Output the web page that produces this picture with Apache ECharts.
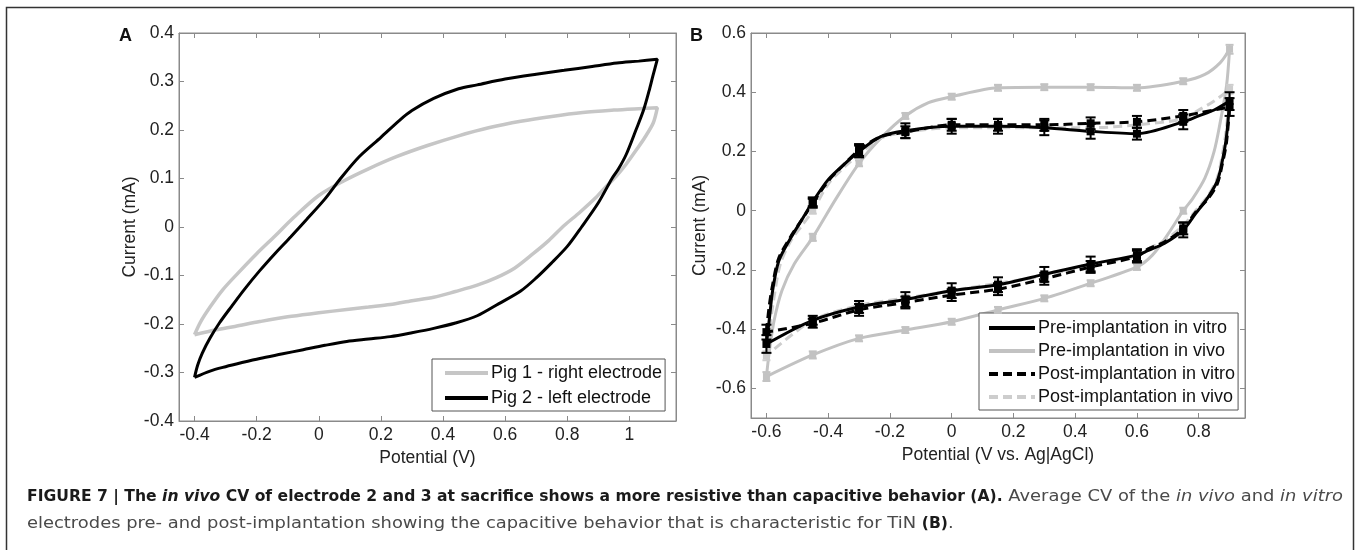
<!DOCTYPE html>
<html>
<head>
<meta charset="utf-8">
<script src="https://cdn.jsdelivr.net/npm/echarts@6/dist/echarts.min.js"></script>
<style>
html, body { margin: 0; padding: 0; background: #fff; }
#main { width: 1360px; height: 550px; }
</style>
</head>
<body>
<div id="main"></div>
<script>
// ---- Panel A: CV at sacrifice, [potential V, current mA] traced along the loop
var pig1 = [
    [-0.40, -0.222], [-0.38, -0.195], [-0.35, -0.165], [-0.31, -0.13], [-0.26, -0.095], [-0.20, -0.055],
    [-0.14, -0.018], [-0.08, 0.02], [0.0, 0.065], [0.08, 0.095], [0.16, 0.12], [0.25, 0.145],
    [0.35, 0.168], [0.45, 0.188], [0.55, 0.205], [0.65, 0.218], [0.75, 0.228], [0.85, 0.236],
    [0.95, 0.241], [1.03, 0.244], [1.09, 0.246],
    [1.077, 0.215], [1.05, 0.185], [1.028, 0.164], [0.99, 0.13], [0.958, 0.105], [0.92, 0.08],
    [0.888, 0.058], [0.84, 0.03], [0.79, 0.003], [0.74, -0.028], [0.69, -0.055], [0.63, -0.085],
    [0.57, -0.105], [0.51, -0.12], [0.44, -0.133], [0.37, -0.145], [0.30, -0.152], [0.23, -0.16],
    [0.16, -0.165], [0.09, -0.17], [0.0, -0.177], [-0.10, -0.185], [-0.19, -0.195], [-0.27, -0.205],
    [-0.33, -0.212], [-0.40, -0.222]
];
var pig2 = [
    [-0.40, -0.31], [-0.39, -0.285], [-0.375, -0.26], [-0.35, -0.229], [-0.32, -0.198], [-0.28, -0.163],
    [-0.24, -0.129], [-0.19, -0.09], [-0.14, -0.054], [-0.09, -0.02], [-0.04, 0.015], [0.02, 0.058],
    [0.07, 0.10], [0.13, 0.145], [0.20, 0.185], [0.26, 0.22], [0.30, 0.24], [0.37, 0.265],
    [0.45, 0.285], [0.51, 0.293], [0.60, 0.305], [0.70, 0.315], [0.79, 0.323], [0.88, 0.331],
    [0.96, 0.338], [1.03, 0.342], [1.09, 0.346],
    [1.075, 0.31], [1.063, 0.28], [1.045, 0.24], [1.021, 0.20], [0.99, 0.15], [0.965, 0.12],
    [0.944, 0.10], [0.90, 0.05], [0.846, 0.0], [0.80, -0.04], [0.748, -0.075], [0.70, -0.105],
    [0.65, -0.132], [0.58, -0.158], [0.51, -0.183], [0.44, -0.198], [0.37, -0.209], [0.30, -0.218],
    [0.23, -0.226], [0.16, -0.231], [0.09, -0.236], [0.02, -0.244], [-0.05, -0.253], [-0.12, -0.262],
    [-0.19, -0.271], [-0.25, -0.28], [-0.30, -0.288], [-0.35, -0.297], [-0.40, -0.31]
];
var ticksAx = [-0.4, -0.2, 0, 0.2, 0.4, 0.6, 0.8, 1];

// ---- Panel B: average CV, markers every 0.15 V (upper = anodic, lower = cathodic branch)
var potB = [-0.6, -0.45, -0.3, -0.15, 0, 0.15, 0.3, 0.45, 0.6, 0.75, 0.9];

var preVitroUp   = [-0.45, 0.03, 0.20, 0.27, 0.285, 0.285, 0.28, 0.268, 0.26, 0.30, 0.37];
var preVitroDown = [-0.45, -0.37, -0.325, -0.30, -0.27, -0.25, -0.215, -0.18, -0.15, -0.065, 0.37];
var preVitroErr  = [0.03, 0.015, 0.02, 0.025, 0.025, 0.025, 0.025, 0.025, 0.02, 0.025, 0.03];
var preVitroUpBend   = [[-0.59, -0.36], [-0.58, -0.27], [-0.56, -0.17], [-0.52, -0.09], [-0.485, -0.03], [-0.40, 0.105], [-0.345, 0.16], [-0.23, 0.25], [0.80, 0.32], [0.85, 0.34]];
var preVitroDownBend = [[0.89, 0.25], [0.875, 0.16], [0.86, 0.10], [0.83, 0.045], [0.79, -0.01], [0.69, -0.11], [0.635, -0.135]];

var preVivoUp   = [-0.56, -0.09, 0.16, 0.32, 0.385, 0.415, 0.417, 0.417, 0.415, 0.437, 0.545];
var preVivoDown = [-0.56, -0.487, -0.431, -0.403, -0.375, -0.335, -0.296, -0.245, -0.19, 0.0, 0.545];
var preVivoErr  = [0.015, 0.012, 0.01, 0.01, 0.01, 0.01, 0.01, 0.01, 0.01, 0.01, 0.015];
var preVivoUpBend   = [[-0.59, -0.47], [-0.575, -0.37], [-0.55, -0.27], [-0.51, -0.18], [-0.375, 0.04], [-0.225, 0.25], [-0.075, 0.365], [0.82, 0.46], [0.87, 0.50]];
var preVivoDownBend = [[0.89, 0.42], [0.87, 0.30], [0.85, 0.20], [0.82, 0.11], [0.78, 0.04], [0.70, -0.08], [0.65, -0.15]];

var postVitroUp   = [-0.41, 0.025, 0.205, 0.265, 0.29, 0.29, 0.29, 0.295, 0.30, 0.32, 0.35];
var postVitroDown = [-0.41, -0.38, -0.335, -0.31, -0.285, -0.265, -0.23, -0.19, -0.155, -0.06, 0.35];
var postVitroErr  = [0.025, 0.015, 0.02, 0.02, 0.02, 0.02, 0.02, 0.02, 0.02, 0.02, 0.03];
var postVitroUpBend   = [[-0.592, -0.33], [-0.58, -0.25], [-0.56, -0.16], [-0.52, -0.085], [-0.485, -0.03], [-0.40, 0.10], [-0.345, 0.16], [-0.23, 0.25], [0.80, 0.33], [0.85, 0.34]];
var postVitroDownBend = [[0.89, 0.23], [0.875, 0.15], [0.86, 0.09], [0.83, 0.04], [0.79, -0.005], [0.69, -0.105], [0.635, -0.13]];

var postVivoUp   = [-0.49, 0.0, 0.19, 0.265, 0.28, 0.28, 0.28, 0.28, 0.29, 0.31, 0.41];
var postVivoDown = [-0.49, -0.37, -0.32, -0.295, -0.27, -0.245, -0.22, -0.18, -0.155, -0.05, 0.41];
var postVivoErr  = [0.015, 0.01, 0.01, 0.01, 0.01, 0.01, 0.01, 0.01, 0.01, 0.01, 0.015];
var postVivoUpBend   = [[-0.59, -0.40], [-0.575, -0.29], [-0.555, -0.18], [-0.52, -0.10], [-0.485, -0.05], [-0.40, 0.09], [-0.345, 0.15], [-0.23, 0.245], [0.80, 0.34], [0.85, 0.37]];
var postVivoDownBend = [[0.89, 0.28], [0.875, 0.18], [0.86, 0.11], [0.83, 0.05], [0.79, 0.0], [0.69, -0.10], [0.635, -0.13]];

var ticksBx = [-0.6, -0.4, -0.2, 0, 0.2, 0.4, 0.6, 0.8];
var ticksBy = [-0.6, -0.4, -0.2, 0, 0.2, 0.4, 0.6];

var FONT = '"Liberation Sans", Arial, sans-serif';
var CAP_B = '"DejaVu Sans Condensed", "Liberation Sans", sans-serif';
var CAP_R = '"DejaVu Sans", "Liberation Sans", sans-serif';
var FRAME = '#8a8a8a';
var FS = 17.5;

// join markers and bend points into one closed loop: upper branch left->right, lower right->left
function loop(up, down, upBend, downBend) {
    var a = potB.map(function (x, i) { return [x, up[i]]; }).concat(upBend);
    a.sort(function (p, q) { return p[0] - q[0]; });
    var b = potB.map(function (x, i) { return [x, down[i]]; }).slice(0, potB.length - 1).concat(downBend);
    b.sort(function (p, q) { return q[0] - p[0]; });
    return a.concat(b);
}
function bars(up, down, err) {
    var out = [];
    potB.forEach(function (x, i) {
        out.push([x, up[i], err[i]]);
        if (i > 0 && i < potB.length - 1) out.push([x, down[i], err[i]]);
    });
    return out;
}

var chartDom = document.getElementById('main');
var myChart = echarts.init(chartDom);

function valueAxis(opt) {
    var base = {
        type: 'value',
        scale: true,
        splitLine: { show: false },
        axisLine: { show: true, onZero: false, lineStyle: { color: FRAME, width: 1 } },
        axisTick: { show: true, inside: true, length: 5, lineStyle: { color: FRAME } },
        axisLabel: { show: true, color: '#222', fontSize: FS, fontFamily: FONT, margin: 5 },
        nameTextStyle: { color: '#222', fontSize: FS, fontFamily: FONT }
    };
    return Object.assign(base, opt);
}
function mirror(opt) {
    return valueAxis(Object.assign({ axisLabel: { show: false } }, opt));
}
function ticks(vals) {
    return { show: true, inside: true, length: 5, lineStyle: { color: FRAME }, customValues: vals };
}
function labels(vals) {
    return { show: true, color: '#222', fontSize: FS, fontFamily: FONT, margin: 5, customValues: vals };
}

function errorSeries(data, color, xi, yi, capW, size, lw) {
    return {
        type: 'custom',
        xAxisIndex: xi,
        yAxisIndex: yi,
        z: 5,
        silent: true,
        encode: { x: 0, y: 1 },
        data: data,
        renderItem: function (params, api) {
            var x = api.value(0), y = api.value(1), e = api.value(2);
            var p = api.coord([x, y]);
            var hi = api.coord([x, y + e]);
            var lo = api.coord([x, y - e]);
            var st = { stroke: color, lineWidth: lw };
            return {
                type: 'group',
                children: [
                    { type: 'line', shape: { x1: p[0], y1: hi[1], x2: p[0], y2: lo[1] }, style: st },
                    { type: 'line', shape: { x1: p[0] - capW, y1: hi[1], x2: p[0] + capW, y2: hi[1] }, style: st },
                    { type: 'line', shape: { x1: p[0] - capW, y1: lo[1], x2: p[0] + capW, y2: lo[1] }, style: st },
                    { type: 'rect', shape: { x: p[0] - size / 2, y: p[1] - size / 2, width: size, height: size }, style: { fill: color } }
                ]
            };
        }
    };
}

var legendBase = {
    orient: 'vertical',
    backgroundColor: '#fff',
    borderColor: '#555',
    borderWidth: 1,
    borderRadius: 0,
    itemHeight: 18,
    itemStyle: { opacity: 0 },
    lineStyle: { width: 4 },
    textStyle: { color: '#111', fontSize: 18, fontFamily: FONT, padding: [0, 0, 0, -2] }
};

var option = {
    backgroundColor: '#fff',
    animation: false,
    grid: [
        { left: 179, top: 33, width: 497, height: 388, show: true, borderColor: FRAME, borderWidth: 1, backgroundColor: '#fff' },
        { left: 751, top: 33, width: 494, height: 385, show: true, borderColor: FRAME, borderWidth: 1, backgroundColor: '#fff' }
    ],
    xAxis: [
        valueAxis({
            gridIndex: 0, min: -0.45, max: 1.15,
            axisTick: ticks(ticksAx), axisLabel: labels(ticksAx),
            name: 'Potential (V)', nameLocation: 'middle', nameGap: 27
        }),
        mirror({ gridIndex: 0, position: 'top', min: -0.45, max: 1.15, axisTick: ticks(ticksAx) }),
        valueAxis({
            gridIndex: 1, min: -0.65, max: 0.95,
            axisTick: ticks(ticksBx), axisLabel: labels(ticksBx),
            name: 'Potential (V vs. Ag|AgCl)', nameLocation: 'middle', nameGap: 27
        }),
        mirror({ gridIndex: 1, position: 'top', min: -0.65, max: 0.95, axisTick: ticks(ticksBx) })
    ],
    yAxis: [
        valueAxis({
            gridIndex: 0, min: -0.4, max: 0.4, interval: 0.1,
            name: 'Current (mA)', nameLocation: 'middle', nameGap: 40
        }),
        mirror({ gridIndex: 0, position: 'right', min: -0.4, max: 0.4, interval: 0.1 }),
        valueAxis({
            gridIndex: 1, min: -0.7, max: 0.6,
            axisTick: ticks(ticksBy), axisLabel: labels(ticksBy),
            name: 'Current (mA)', nameLocation: 'middle', nameGap: 42
        }),
        mirror({ gridIndex: 1, position: 'right', min: -0.7, max: 0.6, axisTick: ticks(ticksBy) })
    ],
    legend: [
        Object.assign({}, legendBase, {
            left: 432, top: 359, padding: [5, 3, 4, 11], itemGap: 7, itemWidth: 43,
            data: ['Pig 1 - right electrode', 'Pig 2 - left electrode']
        }),
        Object.assign({}, legendBase, {
            left: 979, top: 313, padding: [6, 3, 4, 8], itemGap: 5, itemWidth: 46,
            data: ['Pre-implantation in vitro', 'Pre-implantation in vivo', 'Post-implantation in vitro', 'Post-implantation in vivo']
        })
    ],
    series: [
        {
            name: 'Pig 1 - right electrode', type: 'line', xAxisIndex: 0, yAxisIndex: 0,
            data: pig1, symbol: 'none', smooth: 0.3, lineStyle: { color: '#c6c6c6', width: 3.5 }, itemStyle: { color: '#c6c6c6' }
        },
        {
            name: 'Pig 2 - left electrode', type: 'line', xAxisIndex: 0, yAxisIndex: 0,
            data: pig2, symbol: 'none', smooth: 0.3, lineStyle: { color: '#000', width: 3 }, itemStyle: { color: '#000' }
        },
        {
            name: 'Pre-implantation in vivo', type: 'line', xAxisIndex: 2, yAxisIndex: 2,
            data: loop(preVivoUp, preVivoDown, preVivoUpBend, preVivoDownBend),
            symbol: 'none', smooth: 0.3, lineStyle: { color: '#c2c2c2', width: 3 }, itemStyle: { color: '#c2c2c2' }
        },
        {
            name: 'Post-implantation in vivo', type: 'line', xAxisIndex: 2, yAxisIndex: 2,
            data: loop(postVivoUp, postVivoDown, postVivoUpBend, postVivoDownBend),
            symbol: 'none', smooth: 0.3, lineStyle: { color: '#cdcdcd', width: 3, type: [9, 5] }, itemStyle: { color: '#cdcdcd' }
        },
        {
            name: 'Post-implantation in vitro', type: 'line', xAxisIndex: 2, yAxisIndex: 2,
            data: loop(postVitroUp, postVitroDown, postVitroUpBend, postVitroDownBend),
            symbol: 'none', smooth: 0.3, lineStyle: { color: '#000', width: 3, type: [9, 5] }, itemStyle: { color: '#000' }
        },
        {
            name: 'Pre-implantation in vitro', type: 'line', xAxisIndex: 2, yAxisIndex: 2,
            data: loop(preVitroUp, preVitroDown, preVitroUpBend, preVitroDownBend),
            symbol: 'none', smooth: 0.3, lineStyle: { color: '#000', width: 3 }, itemStyle: { color: '#000' }
        },
        errorSeries(bars(preVivoUp, preVivoDown, preVivoErr), '#c2c2c2', 2, 2, 4, 7, 2),
        errorSeries(bars(postVivoUp, postVivoDown, postVivoErr), '#cdcdcd', 2, 2, 4, 7, 2),
        errorSeries(bars(postVitroUp, postVitroDown, postVitroErr), '#000', 2, 2, 5, 8, 2),
        errorSeries(bars(preVitroUp, preVitroDown, preVitroErr), '#000', 2, 2, 5, 8, 2)
    ],
    graphic: [
        { type: 'rect', silent: true, shape: { x: 6.5, y: 7.5, width: 1347, height: 600 }, style: { fill: 'none', stroke: '#333', lineWidth: 1.5 } },
        { type: 'text', x: 119, y: 27, style: { text: 'A', font: 'bold 18px ' + FONT, fill: '#111' } },
        { type: 'text', x: 690, y: 27, style: { text: 'B', font: 'bold 18px ' + FONT, fill: '#111' } },
        {
            type: 'text', x: 27, y: 489, scaleX: 1.155,
            style: {
                text: '{b|FIGURE 7 | The }{bi|in vivo}{b| CV of electrode 2 and 3 at sacrifice shows a more resistive than capacitive behavior (A).}{r| Average CV of the }{i|in vivo}{r| and }{i|in vitro}',
                font: '15px ' + CAP_R,
                rich: {
                    b: { fontWeight: 'bold', fontSize: 15, fontFamily: CAP_B, fill: '#1a1a1a' },
                    bi: { fontWeight: 'bold', fontStyle: 'italic', fontSize: 15, fontFamily: CAP_B, fill: '#1a1a1a' },
                    r: { fontSize: 15.5, fontFamily: CAP_R, fill: '#4a4a4a' },
                    i: { fontStyle: 'italic', fontSize: 15.5, fontFamily: CAP_R, fill: '#4a4a4a' }
                }
            }
        },
        {
            type: 'text', x: 27, y: 516, scaleX: 1.155,
            style: {
                text: '{r|electrodes pre- and post-implantation showing the capacitive behavior that is characteristic for TiN }{b|(B)}{r|.}',
                font: '15px ' + CAP_R,
                rich: {
                    b: { fontWeight: 'bold', fontSize: 15, fontFamily: CAP_B, fill: '#1a1a1a' },
                    r: { fontSize: 15.5, fontFamily: CAP_R, fill: '#4a4a4a' }
                }
            }
        }
    ]
};

option && myChart.setOption(option);
window.addEventListener('resize', function () {
    myChart.resize();
});
</script>
</body>
</html>
